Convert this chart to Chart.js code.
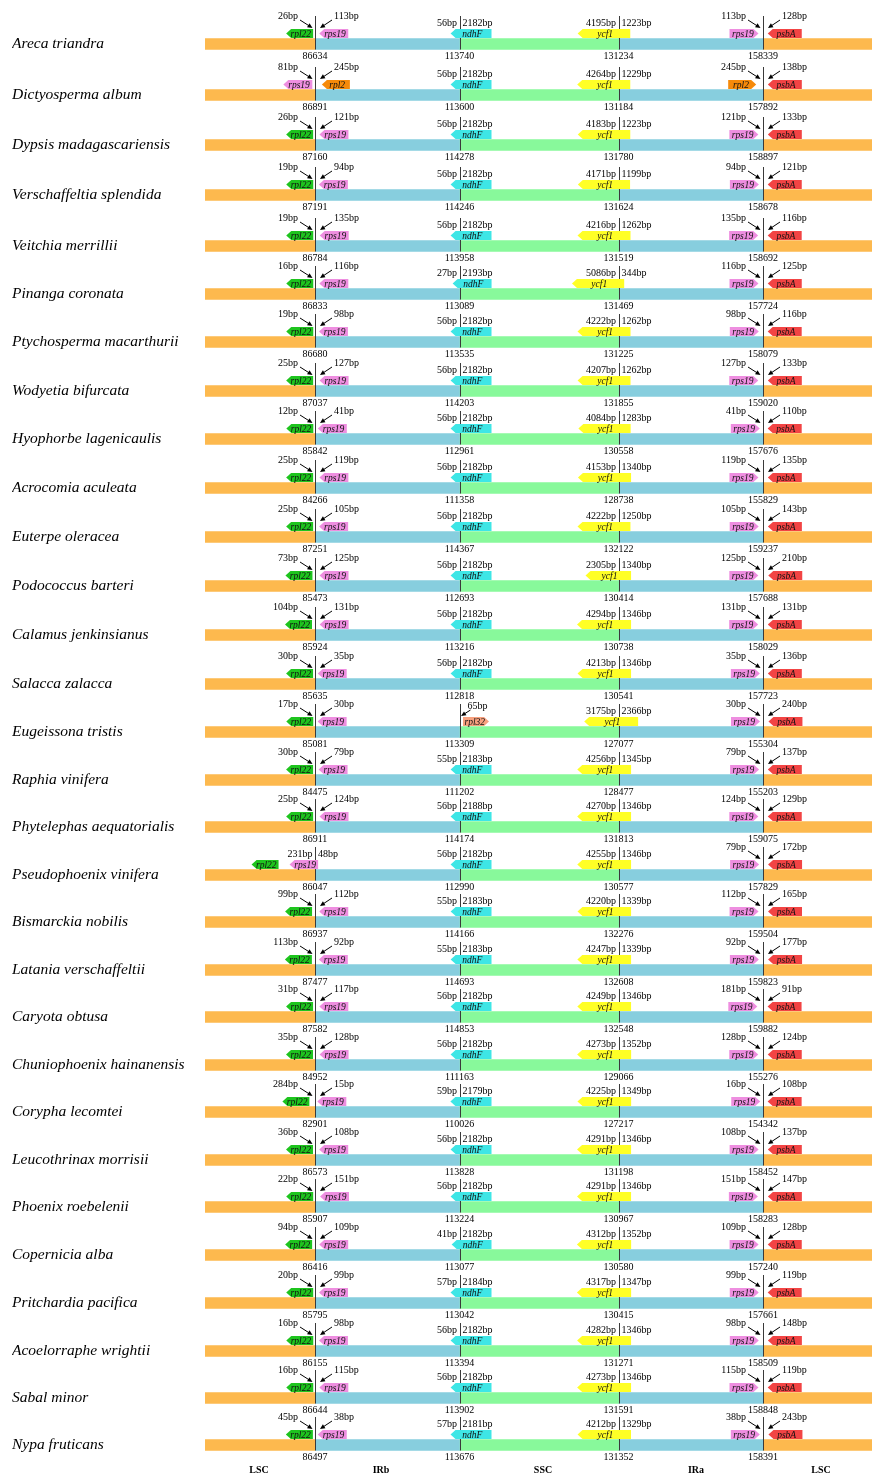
<!DOCTYPE html>
<html>
<head>
<meta charset="utf-8">
<script src="https://cdn.jsdelivr.net/npm/chart.js@4.4.0/dist/chart.umd.min.js"></script>
<style>
  html, body { margin: 0; padding: 0; background: #fff; }
  canvas { display: block; }
</style>
</head>
<body>
<canvas id="irChart" width="872" height="1477"></canvas>
<script>
// species, top to bottom
const species = ['Areca triandra', 'Dictyosperma album', 'Dypsis madagascariensis', 'Verschaffeltia splendida',
  'Veitchia merrillii', 'Pinanga coronata', 'Ptychosperma macarthurii', 'Wodyetia bifurcata',
  'Hyophorbe lagenicaulis', 'Acrocomia aculeata', 'Euterpe oleracea', 'Podococcus barteri',
  'Calamus jenkinsianus', 'Salacca zalacca', 'Eugeissona tristis', 'Raphia vinifera',
  'Phytelephas aequatorialis', 'Pseudophoenix vinifera', 'Bismarckia nobilis', 'Latania verschaffeltii',
  'Caryota obtusa', 'Chuniophoenix hainanensis', 'Corypha lecomtei', 'Leucothrinax morrisii',
  'Phoenix roebelenii', 'Copernicia alba', 'Pritchardia pacifica', 'Acoelorraphe wrightii',
  'Sabal minor', 'Nypa fruticans'];

// LSC / IRb junction (JLB)
const jlbGeneL = ['rpl22', 'rps19', 'rpl22', 'rpl22', 'rpl22', 'rpl22', 'rpl22', 'rpl22', 'rpl22', 'rpl22',
  'rpl22', 'rpl22', 'rpl22', 'rpl22', 'rpl22', 'rpl22', 'rpl22', 'rpl22', 'rpl22', 'rpl22',
  'rpl22', 'rpl22', 'rpl22', 'rpl22', 'rpl22', 'rpl22', 'rpl22', 'rpl22', 'rpl22', 'rpl22'];
const jlbGeneR = ['rps19', 'rpl2', 'rps19', 'rps19', 'rps19', 'rps19', 'rps19', 'rps19', 'rps19', 'rps19',
  'rps19', 'rps19', 'rps19', 'rps19', 'rps19', 'rps19', 'rps19', 'rps19', 'rps19', 'rps19',
  'rps19', 'rps19', 'rps19', 'rps19', 'rps19', 'rps19', 'rps19', 'rps19', 'rps19', 'rps19'];
const jlbBpL = [26, 81, 26, 19, 19, 16, 19, 25, 12, 25, 25, 73, 104, 30, 17, 30, 25, 231, 99, 113,
  31, 35, 284, 36, 22, 94, 20, 16, 16, 45];
const jlbBpR = [113, 245, 121, 94, 135, 116, 98, 127, 41, 119, 105, 125, 131, 35, 30, 79, 124, 48, 112, 92,
  117, 128, 15, 108, 151, 109, 99, 98, 115, 38];
// rows where the IRb gene straddles JLB
const jlbStraddle = ['Pseudophoenix vinifera'];

// IRb / SSC junction (JSB)
const jsbGene = ['ndhF', 'ndhF', 'ndhF', 'ndhF', 'ndhF', 'ndhF', 'ndhF', 'ndhF', 'ndhF', 'ndhF',
  'ndhF', 'ndhF', 'ndhF', 'ndhF', 'rpl32', 'ndhF', 'ndhF', 'ndhF', 'ndhF', 'ndhF',
  'ndhF', 'ndhF', 'ndhF', 'ndhF', 'ndhF', 'ndhF', 'ndhF', 'ndhF', 'ndhF', 'ndhF'];
const jsbBpL = [56, 56, 56, 56, 56, 27, 56, 56, 56, 56, 56, 56, 56, 56, null, 55, 56, 56, 55, 55,
  56, 56, 59, 56, 56, 41, 57, 56, 56, 57];
const jsbBpR = [2182, 2182, 2182, 2182, 2182, 2193, 2182, 2182, 2182, 2182, 2182, 2182, 2182, 2182, 65,
  2183, 2188, 2182, 2183, 2183, 2182, 2182, 2179, 2182, 2182, 2182, 2184, 2182, 2182, 2181];

// SSC / IRa junction (JSA), ycf1
const jsaBpL = [4195, 4264, 4183, 4171, 4216, 5086, 4222, 4207, 4084, 4153, 4222, 2305, 4294, 4213, 3175,
  4256, 4270, 4255, 4220, 4247, 4249, 4273, 4225, 4291, 4291, 4312, 4317, 4282, 4273, 4212];
const jsaBpR = [1223, 1229, 1223, 1199, 1262, 344, 1262, 1262, 1283, 1340, 1250, 1340, 1346, 1346, 2366,
  1345, 1346, 1346, 1339, 1339, 1346, 1352, 1349, 1346, 1346, 1352, 1347, 1346, 1346, 1329];

// IRa / LSC junction (JLA)
const jlaGeneL = ['rps19', 'rpl2', 'rps19', 'rps19', 'rps19', 'rps19', 'rps19', 'rps19', 'rps19', 'rps19',
  'rps19', 'rps19', 'rps19', 'rps19', 'rps19', 'rps19', 'rps19', 'rps19', 'rps19', 'rps19',
  'rps19', 'rps19', 'rps19', 'rps19', 'rps19', 'rps19', 'rps19', 'rps19', 'rps19', 'rps19'];
const jlaBpL = [113, 245, 121, 94, 135, 116, 98, 127, 41, 119, 105, 125, 131, 35, 30, 79, 124, 79, 112, 92,
  181, 128, 16, 108, 151, 109, 99, 98, 115, 38];
const jlaBpR = [128, 138, 133, 121, 116, 125, 116, 133, 110, 135, 143, 210, 131, 136, 240, 137, 129, 172, 165, 177,
  91, 124, 108, 137, 147, 128, 119, 148, 119, 243];

// junction coordinates in the genome
const posJLB = [86634, 86891, 87160, 87191, 86784, 86833, 86680, 87037, 85842, 84266, 87251, 85473, 85924, 85635,
  85081, 84475, 86911, 86047, 86937, 87477, 87582, 84952, 82901, 86573, 85907, 86416, 85795, 86155, 86644, 86497];
const posJSB = [113740, 113600, 114278, 114246, 113958, 113089, 113535, 114203, 112961, 111358, 114367, 112693,
  113216, 112818, 113309, 111202, 114174, 112990, 114166, 114693, 114853, 111163, 110026, 113828, 113224,
  113077, 113042, 113394, 113902, 113676];
const posJSA = [131234, 131184, 131780, 131624, 131519, 131469, 131225, 131855, 130558, 128738, 132122, 130414,
  130738, 130541, 127077, 128477, 131813, 130577, 132276, 132608, 132548, 129066, 127217, 131198, 130967,
  130580, 130415, 131271, 131591, 131352];
const posJLA = [158339, 157892, 158897, 158678, 158692, 157724, 158079, 159020, 157676, 155829, 159237, 157688,
  158029, 157723, 155304, 155203, 159075, 157829, 159504, 159823, 159882, 155276, 154342, 158452, 158283,
  157240, 157661, 158509, 158848, 158391];

const regions = ['LSC', 'IRb', 'SSC', 'IRa', 'LSC'];

// ---- layout (scheme units, 1 unit = 1 px) ----
const rowY = [44, 95, 145, 195, 246, 294, 342, 391, 439, 488, 537, 586, 635, 684, 732,
  780, 827, 875, 922, 970, 1017, 1065, 1112, 1160, 1207, 1255, 1303, 1351, 1398, 1445];
const J = [110, 254.5, 413.5, 558];
const SPAN = 667;
const regionLabelX = [54, 176, 338, 491, 616];
const regionColors = ['#fdb94e', '#87cede', '#88f99b', '#87cede', '#fdb94e'];
const geneColor = { rpl22: '#1ec41e', rps19: '#ee8ee0', rpl2: '#f68a0a', ndhF: '#3ee6e6',
  ycf1: '#ffff26', psbA: '#f24444', rpl32: '#f7a17f' };
const geneWidth = { rpl22: 27, rps19: 29, rpl2: 28, psbA: 34, rpl32: 26 };

const SERIF = '"Liberation Serif", "Times New Roman", serif';

function geneBox(ctx, x0, x1, yc, gene, dir) {
  const top = yc - 15, bot = yc - 6, mid = (top + bot) / 2, tip = 5;
  ctx.beginPath();
  if (dir === 'L') {
    ctx.moveTo(x0, mid); ctx.lineTo(x0 + tip, top); ctx.lineTo(x1, top);
    ctx.lineTo(x1, bot); ctx.lineTo(x0 + tip, bot);
  } else {
    ctx.moveTo(x1, mid); ctx.lineTo(x1 - tip, top); ctx.lineTo(x0, top);
    ctx.lineTo(x0, bot); ctx.lineTo(x1 - tip, bot);
  }
  ctx.closePath();
  ctx.fillStyle = geneColor[gene];
  ctx.fill();
  ctx.fillStyle = '#111';
  ctx.font = 'italic 9.5px ' + SERIF;
  ctx.textAlign = 'center';
  ctx.textBaseline = 'middle';
  ctx.fillText(gene, (x0 + x1) / 2 + (dir === 'L' ? 1.2 : -1.2), mid + 0.5);
}

function arrow(ctx, x1, y1, x2, y2) {
  const a = Math.atan2(y2 - y1, x2 - x1), h = 5, w = 2.3;
  ctx.strokeStyle = '#000';
  ctx.lineWidth = 1;
  ctx.beginPath();
  ctx.moveTo(x1, y1);
  ctx.lineTo(x2 - Math.cos(a) * h * 0.7, y2 - Math.sin(a) * h * 0.7);
  ctx.stroke();
  ctx.beginPath();
  ctx.moveTo(x2, y2);
  ctx.lineTo(x2 - h * Math.cos(a) + w * Math.sin(a), y2 - h * Math.sin(a) - w * Math.cos(a));
  ctx.lineTo(x2 - h * Math.cos(a) - w * Math.sin(a), y2 - h * Math.sin(a) + w * Math.cos(a));
  ctx.closePath();
  ctx.fillStyle = '#000';
  ctx.fill();
}

function text(ctx, str, x, y, align, font) {
  ctx.fillStyle = '#000';
  ctx.font = font || ('10px ' + SERIF);
  ctx.textAlign = align;
  ctx.textBaseline = 'middle';
  ctx.fillText(str, x, y);
}

// bp gap labels with arrows pointing at the junction
function gapLabels(ctx, j, yc, bpL, bpR) {
  if (bpL != null) {
    text(ctx, bpL + 'bp', j - 17, yc - 27.5, 'right');
    arrow(ctx, j - 15, yc - 24, j - 2.5, yc - 16);
  }
  if (bpR != null) {
    text(ctx, bpR + 'bp', j + 19, yc - 27.5, 'left');
    arrow(ctx, j + 17, yc - 24, j + 5, yc - 16);
  }
}

// bp labels for a gene crossing the junction
function splitLabels(ctx, j, yc, bpL, bpR) {
  text(ctx, bpL + 'bp', j - 2.5, yc - 21, 'right');
  text(ctx, bpR + 'bp', j + 3, yc - 21, 'left');
}

const boundaryPlugin = {
  id: 'boundaries',
  afterDatasetsDraw(chart) {
    const ctx = chart.ctx;
    const xs = chart.scales.x, ys = chart.scales.y;
    const px = v => xs.getPixelForValue(v);
    ctx.save();
    species.forEach((name, i) => {
      const yc = ys.getPixelForValue(rowY[i]);
      const j = J.map(px);

      // junction lines
      ctx.strokeStyle = '#3a3a3a';
      ctx.lineWidth = 1;
      j.forEach(x => {
        ctx.beginPath();
        ctx.moveTo(Math.round(x) + 0.5, yc - 28);
        ctx.lineTo(Math.round(x) + 0.5, yc + 5.5);
        ctx.stroke();
      });

      // JLB
      if (jlbStraddle.includes(name)) {
        const l = j[0] - jlbBpL[i] * 0.11, r = j[0] + jlbBpR[i] * 0.065;
        geneBox(ctx, l, r, yc, jlbGeneR[i], 'L');
        geneBox(ctx, l - 11 - geneWidth[jlbGeneL[i]], l - 11, yc, jlbGeneL[i], 'L');
        splitLabels(ctx, j[0], yc, jlbBpL[i], jlbBpR[i]);
      } else {
        const gl = jlbGeneL[i], gr = jlbGeneR[i];
        const le = j[0] - (1.5 + jlbBpL[i] * 0.0145);
        geneBox(ctx, le - geneWidth[gl], le, yc, gl, 'L');
        const rs = j[0] + (2 + jlbBpR[i] * 0.02);
        geneBox(ctx, rs, rs + geneWidth[gr], yc, gr, 'L');
        gapLabels(ctx, j[0], yc, jlbBpL[i], jlbBpR[i]);
      }

      // JSB
      if (jsbBpL[i] == null) {
        const s = j[1] + 3.5;
        geneBox(ctx, s, s + geneWidth[jsbGene[i]], yc, jsbGene[i], 'R');
        text(ctx, jsbBpR[i] + 'bp', j[1] + 8, yc - 26, 'left');
        arrow(ctx, j[1] + 11, yc - 22, j[1] + 1.5, yc - 16);
      } else {
        const l = j[1] - (5 + jsbBpL[i] * 0.07);
        const r = j[1] + 32 + (jsbBpR[i] - 2182) * 0.007;
        geneBox(ctx, l, r, yc, jsbGene[i], 'L');
        splitLabels(ctx, j[1], yc, jsbBpL[i], jsbBpR[i]);
      }

      // JSA, ycf1
      {
        const l = j[2] - Math.max(33, 14 + jsaBpL[i] * 0.0064);
        const r = j[2] + 3.3 + jsaBpR[i] * 0.0069;
        geneBox(ctx, l, r, yc, 'ycf1', 'L');
        splitLabels(ctx, j[2], yc, jsaBpL[i], jsaBpR[i]);
      }

      // JLA
      {
        const gl = jlaGeneL[i];
        const le = j[3] - (2.5 + jlaBpL[i] * 0.0175);
        geneBox(ctx, le - geneWidth[gl], le, yc, gl, 'R');
        const rs = j[3] + (4 + jlaBpR[i] * 0.006);
        geneBox(ctx, rs, rs + geneWidth.psbA, yc, 'psbA', 'L');
        gapLabels(ctx, j[3], yc, jlaBpL[i], jlaBpR[i]);
      }

      // junction coordinates under the bar
      [posJLB[i], posJSB[i], posJSA[i], posJLA[i]].forEach((p, k) => {
        text(ctx, String(p), j[k], yc + 12.5, 'center');
      });
    });

    // region names under the last row
    const yl = ys.getPixelForValue(rowY[rowY.length - 1]) + 25.5;
    regions.forEach((r, k) => {
      text(ctx, r, px(regionLabelX[k]), yl, 'center', 'bold 10px ' + SERIF);
    });
    ctx.restore();
  }
};

const regionBounds = [[0, J[0]], [J[0], J[1]], [J[1], J[2]], [J[2], J[3]], [J[3], SPAN]];

new Chart(document.getElementById('irChart'), {
  type: 'bar',
  data: {
    datasets: regionBounds.map((b, k) => ({
      label: regions[k],
      data: rowY.map(y => ({ x: b, y: y })),
      backgroundColor: regionColors[k],
      borderWidth: 0,
      barThickness: 11,
      grouped: false
    }))
  },
  options: {
    indexAxis: 'y',
    responsive: false,
    animation: false,
    devicePixelRatio: 1,
    layout: { padding: { left: 12, right: 0, top: 0, bottom: 0 } },
    plugins: { legend: { display: false }, tooltip: { enabled: false } },
    scales: {
      x: { type: 'linear', min: 0, max: SPAN, display: false },
      y: {
        type: 'linear',
        min: 0,
        max: 1477,
        offset: false,
        reverse: true,
        grid: { display: false },
        border: { display: false },
        afterBuildTicks: scale => { scale.ticks = rowY.map(v => ({ value: v })); },
        afterFit: scale => {
          scale.width = 193;
          scale.paddingTop = 0;
          scale.paddingBottom = 0;
        },
        ticks: {
          autoSkip: false,
          crossAlign: 'far',
          color: '#000',
          font: { family: SERIF, size: 15.5, style: 'italic' },
          callback: (v, idx) => species[idx]
        }
      }
    }
  },
  plugins: [boundaryPlugin]
});
</script>
</body>
</html>
